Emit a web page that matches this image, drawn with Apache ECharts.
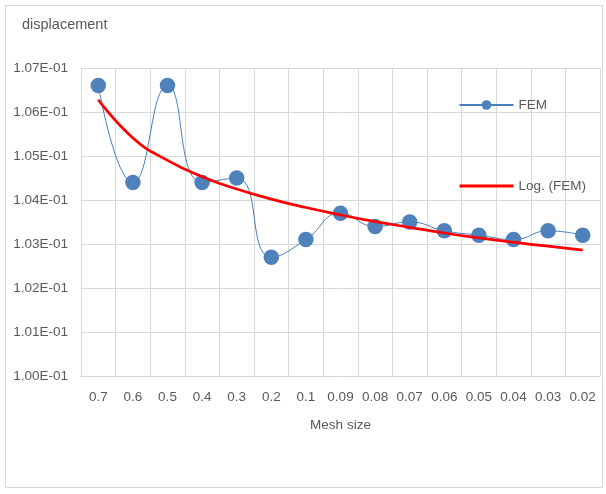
<!DOCTYPE html>
<html>
<head>
<meta charset="utf-8">
<script src="https://cdn.jsdelivr.net/npm/echarts@6/dist/echarts.min.js"></script>
<style>
html,body{margin:0;padding:0;background:#fff;}
#c{width:606px;height:494px;}
</style>
</head>
<body>
<div id="c"></div>
<script>
var categories = ['0.7','0.6','0.5','0.4','0.3','0.2','0.1','0.09','0.08','0.07','0.06','0.05','0.04','0.03','0.02'];
var femValues = [0.1066,0.1044,0.1066,0.1044,0.1045,0.1027,0.1031,0.1037,0.1034,0.1035,0.1033,0.1032,0.1031,0.1033,0.1032];
var logTrendValues = [0.10628,0.10541,0.10490,0.10453,0.10425,0.10402,0.10383,0.10366,0.10351,0.10338,0.10325,0.10314,0.10304,0.10295,0.10286];
var yTicks = {min:0.100, max:0.107, step:0.001};

var FONT = '"Liberation Sans", Arial, sans-serif';
var TXT = '#595959';
var GRID = '#d9d9d9';

function fmt(v){
  var s = Number(v).toExponential(2).toUpperCase();
  var m = s.match(/^([\d.]+)E([+-])(\d+)$/);
  if(!m) return s;
  var e = m[3].length < 2 ? '0' + m[3] : m[3];
  return m[1] + 'E' + m[2] + e;
}

var chart = echarts.init(document.getElementById('c'), null, {renderer:'canvas'});
chart.setOption({
  animation:false,
  backgroundColor:'#fff',
  textStyle:{fontFamily:FONT},
  graphic:[{type:'rect', shape:{x:5.5,y:5.5,width:597,height:482}, style:{fill:'none', stroke:GRID, lineWidth:1}, silent:true}],
  title:{text:'displacement', left:17, top:12, textStyle:{fontFamily:FONT, fontSize:14.5, fontWeight:'normal', color:TXT}},
  grid:{left:81, right:6, top:68, bottom:118},
  legend:{
    orient:'vertical', left:458, top:98, padding:0, itemWidth:54, itemHeight:12, itemGap:67,
    textStyle:{fontFamily:FONT, fontSize:13.5, color:TXT},
    data:[{name:'FEM'}, {name:'Log. (FEM)', itemStyle:{opacity:0}, lineStyle:{width:3, color:'#ff0000'}}]
  },
  xAxis:{
    type:'category', data:categories, boundaryGap:true,
    name:'Mesh size', nameLocation:'middle', nameGap:42,
    nameTextStyle:{fontFamily:FONT, fontSize:13.5, color:TXT},
    axisLine:{show:true, lineStyle:{color:GRID, width:1}},
    axisTick:{show:false},
    axisLabel:{color:TXT, fontFamily:FONT, fontSize:13.5, margin:14, interval:0},
    splitLine:{show:true, interval:0, lineStyle:{color:GRID, width:1}}
  },
  yAxis:{
    type:'value', min:yTicks.min, max:yTicks.max, interval:yTicks.step,
    axisLine:{show:false}, axisTick:{show:false},
    axisLabel:{color:TXT, fontFamily:FONT, fontSize:13.5, margin:13, formatter:fmt},
    splitLine:{show:true, lineStyle:{color:GRID, width:1}}
  },
  series:[
    {
      name:'FEM', type:'line', data:femValues, smooth:0.5,
      symbol:'circle', symbolSize:15.5,
      lineStyle:{color:'#4a7ebb', width:1},
      itemStyle:{color:'#4f81bd'},
      z:2
    },
    {
      name:'Log. (FEM)', type:'line', data:logTrendValues, smooth:true,
      symbol:'none',
      lineStyle:{color:'#ff0000', width:2.75},
      itemStyle:{color:'#ff0000'},
      z:3
    }
  ]
});
</script>
</body>
</html>
